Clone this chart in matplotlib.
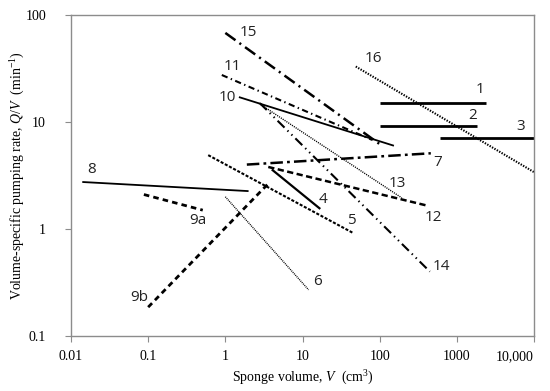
import matplotlib.pyplot as plt
from matplotlib.ticker import FixedLocator, FixedFormatter, NullLocator

plt.rcParams['lines.scale_dashes'] = False
plt.rcParams['mathtext.fontset'] = 'custom'
plt.rcParams['mathtext.rm'] = 'Liberation Serif'
plt.rcParams['mathtext.it'] = 'Liberation Serif:italic'

# line id, sponge volume range (cm3) and pumping rate range (min-1)
names = ["1", "2", "3", "4", "5", "6", "7", "8", "9a", "9b",
         "10", "11", "12", "13", "14", "15", "16"]
v_start = [100, 100, 600, 4.0, 0.6, 1.0, 1.9, 0.014, 0.088, 0.1,
           1.5, 0.9, 3.6, 2.7, 2.8, 1.0, 49]
v_end = [2400, 1800, 10000, 17, 45, 12, 460, 2.0, 0.51, 3.5,
         153, 80, 433, 194, 447, 107, 10000]
q_start = [15.1, 9.2, 7.1, 3.6, 4.9, 2.0, 4.0, 2.75, 2.1, 0.186,
           17.1, 27.5, 3.8, 15.0, 15.0, 68, 33]
q_end = [15.1, 9.2, 7.1, 1.54, 0.92, 0.27, 5.1, 2.26, 1.5, 2.6,
         6.0, 6.8, 1.64, 1.95, 0.40, 6.0, 3.4]

# where each number sits
lab_v = [1990, 1610, 6700, 18.4, 42.4, 15.8, 566, 0.0187, 0.44, 0.076,
         1.05, 1.25, 503, 172, 640, 1.96, 82]
lab_q = [20.3, 11.4, 9.0, 1.87, 1.19, 0.32, 4.14, 3.56, 1.21, 0.231,
         16.8, 33.3, 1.29, 2.69, 0.45, 68, 39.6]

# line looks (dashes in points)
styles = {
    "1": (2.0, None), "2": (2.0, None), "3": (2.0, None),
    "4": (1.6, None), "8": (1.3, None), "10": (1.3, None),
    "5": (1.5, (2.2, 1.2)),
    "6": (1.0, (0.7, 0.7)),
    "7": (1.8, (9, 3, 2, 3)),
    "9a": (2.0, (4, 3)), "9b": (2.0, (4, 3)),
    "11": (1.5, (4.5, 2.5, 1, 2.5)),
    "12": (1.8, (4.5, 2.5)),
    "13": (1.0, (0.8, 0.8)),
    "14": (1.5, (7, 3, 1, 3, 1, 3)),
    "15": (1.8, (9, 3.5, 1.5, 3.5)),
    "16": (1.5, (1, 1)),
}

fig = plt.figure(figsize=(5.5, 3.91), dpi=100)
ax = fig.add_axes([71/550, 1-336/391, (534-71)/550, (336-15)/391])

for i in range(len(names)):
    lw, dash = styles[names[i]]
    line, = ax.plot([v_start[i], v_end[i]], [q_start[i], q_end[i]],
                    color='black', lw=lw, solid_capstyle='butt')
    if dash is not None:
        line.set_dashes(dash)
    ax.text(lab_v[i], lab_q[i], names[i], ha='center', va='center',
            fontsize=11, family='Open Sans', color='#222222')

ax.set_xscale('log')
ax.set_yscale('log')
ax.set_xlim(0.01, 10000)
ax.set_ylim(0.1, 100)

xt = [0.01, 0.1, 1, 10, 100, 1000, 10000]
xt_lab = ["0.01", "0.1", "1", "10", "100", "1000", "10,000"]
yt = [0.1, 1, 10, 100]
yt_lab = ["0.1", "1", "10", "100"]
ax.xaxis.set_major_locator(FixedLocator(xt))
ax.xaxis.set_major_formatter(FixedFormatter(xt_lab))
ax.yaxis.set_major_locator(FixedLocator(yt))
ax.yaxis.set_major_formatter(FixedFormatter(yt_lab))
ax.xaxis.set_minor_locator(NullLocator())
ax.yaxis.set_minor_locator(NullLocator())

for s in ax.spines.values():
    s.set_color('#8c8c8c')
    s.set_linewidth(1.0)
ax.tick_params(axis='both', direction='out', length=4, color='#8c8c8c',
               labelsize=10, labelfontfamily='Liberation Serif')
ax.tick_params(axis='y', pad=14)
ax.tick_params(axis='x', pad=6)

# last x label would hang off the figure edge
ax.get_xticklabels()[-1].set_horizontalalignment('right')

ax.set_xlabel(r"Sponge volume, $V$  (cm$^3$)", family='Liberation Serif',
              fontsize=10, labelpad=4)
ax.set_ylabel(r"Volume-specific pumping rate, $Q/V$  (min$^{-1}$)",
              family='Liberation Serif', fontsize=10, labelpad=-1)

fig.savefig("out.png", dpi=100)
